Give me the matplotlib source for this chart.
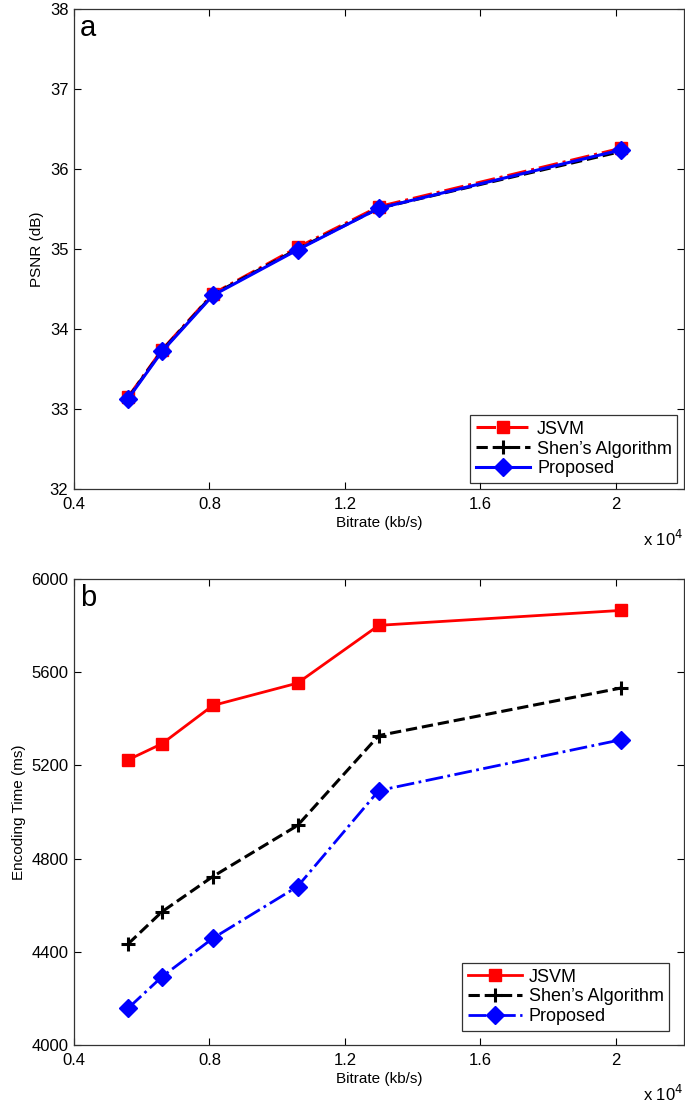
import matplotlib.pyplot as plt

plt.rcParams["font.family"] = ["Liberation Sans", "DejaVu Sans"]

# bitrate (x 10^4 kb/s)
bitrate = [0.56, 0.66, 0.81, 1.06, 1.30, 2.015]

# (a) PSNR (dB)
psnr_jsvm = [33.15, 33.74, 34.44, 35.02, 35.53, 36.26]
psnr_shen = [33.14, 33.73, 34.43, 35.00, 35.51, 36.22]
psnr_prop = [33.13, 33.72, 34.42, 34.99, 35.51, 36.24]

# (b) encoding time (ms)
time_jsvm = [5224, 5293, 5457, 5553, 5801, 5865]
time_shen = [4434, 4572, 4723, 4942, 5328, 5532]
time_prop = [4158, 4293, 4458, 4680, 5092, 5310]

labels = ["JSVM", "Shen\u2019s Algorithm", "Proposed"]
xticks = [0.4, 0.8, 1.2, 1.6, 2.0]
xticklabels = ["0.4", "0.8", "1.2", "1.6", "2"]

fig = plt.figure(figsize=(6.85, 11.03), dpi=100)
ax1 = fig.add_axes([0.108, 0.5567, 0.890, 0.435])
ax2 = fig.add_axes([0.108, 0.0526, 0.890, 0.4225])


def style_axes(ax):
    ax.set_xlim(0.4, 2.2)
    ax.set_xticks(xticks)
    ax.set_xticklabels(xticklabels)
    ax.tick_params(direction="in", top=True, right=True, labelsize=12,
                   length=5, width=0.8)
    ax.tick_params(axis="x", pad=6)
    ax.tick_params(axis="y", pad=4)
    for s in ax.spines.values():
        s.set_linewidth(0.9)
        s.set_color("#333333")
    ax.set_xlabel("Bitrate (kb/s)", fontsize=11, labelpad=3)
    ax.text(0.933, -0.105, r"x 10$^4$", transform=ax.transAxes,
            fontsize=12, ha="left", va="center")


# panel a
ax1.plot(bitrate, psnr_jsvm, color="red", ls="-.", lw=2.2, marker="s",
         ms=8, label=labels[0])
ax1.plot(bitrate, psnr_shen, color="black", ls="--", lw=2.2, marker="+",
         ms=10, mew=2.2, label=labels[1])
ax1.plot(bitrate, psnr_prop, color="blue", ls="-", lw=2.2, marker="D",
         ms=9, label=labels[2])
ax1.set_ylim(32, 38)
ax1.set_yticks(range(32, 39))
ax1.set_ylabel("PSNR (dB)", fontsize=11, labelpad=4)
style_axes(ax1)
ax1.text(0.01, 0.99, "a", transform=ax1.transAxes, fontsize=21,
         ha="left", va="top")
leg1 = ax1.legend(loc="lower right", fontsize=13, fancybox=False,
                  edgecolor="black", borderaxespad=0.35, handlelength=3,
                  labelspacing=0.15, borderpad=0.3, handletextpad=0.4)
leg1.get_frame().set_linewidth(0.9)

# panel b
ax2.plot(bitrate, time_jsvm, color="red", ls="-", lw=2, marker="s",
         ms=8.5, label=labels[0])
ax2.plot(bitrate, time_shen, color="black", ls="--", lw=2.2, marker="+",
         ms=10, mew=2.2, label=labels[1])
ax2.plot(bitrate, time_prop, color="blue", ls="-.", lw=2, marker="D",
         ms=9, label=labels[2])
ax2.set_ylim(4000, 6000)
ax2.set_yticks(range(4000, 6001, 400))
ax2.set_ylabel("Encoding Time (ms)", fontsize=11, labelpad=4)
style_axes(ax2)
ax2.text(0.01, 0.99, "b", transform=ax2.transAxes, fontsize=21,
         ha="left", va="top")
leg2 = ax2.legend(loc="lower right", fontsize=13, fancybox=False,
                  edgecolor="black", borderaxespad=0.8, handlelength=3,
                  labelspacing=0.15, borderpad=0.3, handletextpad=0.4)
leg2.get_frame().set_linewidth(0.9)

fig.savefig("out.png", dpi=100)
